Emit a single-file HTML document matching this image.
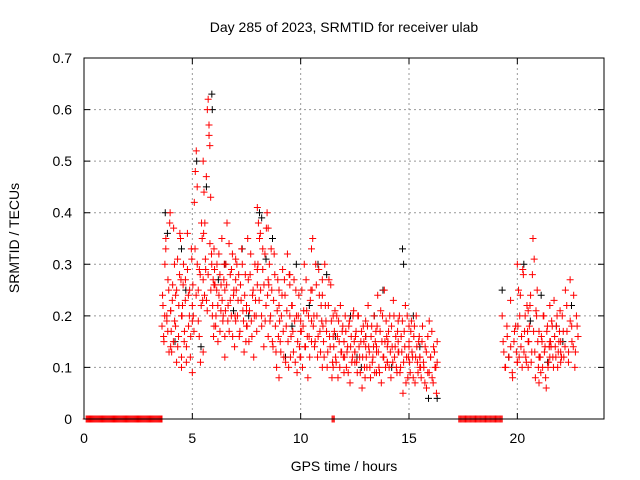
<!DOCTYPE html>
<html><head><meta charset="utf-8"><style>
html,body{margin:0;padding:0;background:#fff;}
svg{display:block;font-family:"Liberation Sans",sans-serif;}
</style></head><body>
<svg id="chart" width="640" height="480">
<text x="344" y="32" font-size="14" text-anchor="middle">Day 285 of 2023, SRMTID for receiver ulab</text>
<text transform="translate(19,238) rotate(-90)" font-size="14" text-anchor="middle">SRMTID / TECUs</text>
<text x="344" y="471" font-size="14" text-anchor="middle">GPS time / hours</text>
<g id="grid"></g>
<g id="axes"></g>
<g id="black"></g>
<g id="red"></g>
<rect x="84" y="58" width="520" height="361" fill="none" stroke="#000" stroke-width="1"/>
</svg>
<script>
const xTicks=[0,5,10,15,20];
const yTicks=[0,0.1,0.2,0.3,0.4,0.5,0.6,0.7];
const yTickLabels=["0","0.1","0.2","0.3","0.4","0.5","0.6","0.7"];
const redBinStart=[0.1,11.45,17.3,3.6,4.0,4.5,5.0,5.5,6.0,6.5,7.0,7.5,8.0,8.5,9.0,9.5,10,10.5,11,11.5,12,12.5,13,13.5,14,14.5,15,15.5,19.3,20,20.5,21,21.5,22];
const redBinEnd=[3.6,11.55,19.3,4.0,4.5,5.0,5.5,6.0,6.5,7.0,7.5,8.0,8.5,9.0,9.5,10,10.5,11,11.5,12,12.5,13,13.5,14,14.5,15,15.5,16.3,20,20.5,21,21.5,22,22.8];
const redBinValues=[
[0,0,0,0,0,0,0,0,0,0,0,0,0,0,0,0,0,0,0,0,0,0,0,0,0,0,0,0,0,0,0,0,0,0,0,0,0,0,0,0,0,0,0,0,0,0,0,0,0,0,0,0,0,0,0,0,0,0,0,0,0,0,0,0,0,0,0,0,0,0,0,0,0,0,0,0,0,0,0,0],
[0,0,0],
[0,0,0,0,0,0,0,0,0,0,0,0,0,0,0,0,0,0,0,0,0,0,0,0,0,0,0,0,0,0,0,0,0,0,0,0,0,0,0,0],
[0.18,0.22,0.15,0.3,0.35,0.2,0.17,0.25,0.38,0.14],
[0.21,0.13,0.26,0.37,0.19,0.24,0.11,0.31,0.16,0.28,0.35,0.2],
[0.1,0.22,0.3,0.17,0.27,0.14,0.36,0.24,0.2,0.12,0.33,0.19],
[0.09,0.2,0.42,0.48,0.52,0.3,0.25,0.16,0.28,0.22,0.35,0.13],
[0.5,0.44,0.38,0.29,0.23,0.6,0.62,0.57,0.53,0.43,0.32,0.2,0.27,0.18],
[0.33,0.26,0.2,0.3,0.15,0.24,0.28,0.21,0.35,0.19,0.27,0.12],
[0.25,0.3,0.38,0.22,0.17,0.28,0.2,0.32,0.24,0.14,0.27],
[0.19,0.3,0.23,0.16,0.26,0.33,0.21,0.13,0.28,0.18],
[0.22,0.35,0.15,0.28,0.19,0.24,0.12,0.3,0.2,0.26],
[0.41,0.38,0.35,0.25,0.18,0.29,0.14,0.32,0.22,0.4,0.27],
[0.37,0.3,0.2,0.25,0.14,0.32,0.18,0.1,0.27,0.22],
[0.08,0.15,0.2,0.29,0.12,0.24,0.18,0.32,0.1,0.26],
[0.28,0.16,0.22,0.13,0.19,0.25,0.09,0.2,0.14,0.17],
[0.12,0.25,0.18,0.3,0.14,0.21,0.08,0.16,0.23,0.19],
[0.33,0.35,0.2,0.15,0.26,0.12,0.29,0.17,0.22,0.1],
[0.24,0.15,0.3,0.19,0.1,0.22,0.16,0.26,0.08,0.2],
[0.1,0.17,0.12,0.2,0.08,0.15,0.22,0.13,0.18,0.09],
[0.15,0.2,0.1,0.14,0.18,0.07,0.16,0.12,0.21,0.11],
[0.13,0.17,0.09,0.2,0.12,0.15,0.06,0.18,0.1,0.14],
[0.16,0.1,0.22,0.13,0.08,0.18,0.12,0.2,0.15,0.09],
[0.14,0.24,0.1,0.17,0.07,0.2,0.12,0.15,0.19,0.11],
[0.11,0.17,0.2,0.08,0.14,0.23,0.12,0.16,0.09,0.19],
[0.15,0.2,0.1,0.13,0.05,0.17,0.22,0.12,0.08,0.18],
[0.14,0.09,0.19,0.12,0.16,0.07,0.2,0.11,0.15,0.1],
[0.12,0.08,0.18,0.1,0.14,0.06,0.16,0.09,0.12,0.17,0.07,0.13,0.1,0.15],
[0.2,0.13,0.1,0.16,0.12,0.23,0.09,0.15,0.18,0.11],
[0.3,0.25,0.2,0.14,0.1,0.28,0.17,0.12,0.22,0.15],
[0.1,0.18,0.24,0.13,0.35,0.31,0.08,0.2,0.15,0.12],
[0.07,0.12,0.16,0.1,0.2,0.14,0.06,0.18,0.11,0.15],
[0.22,0.14,0.18,0.1,0.16,0.12,0.2,0.13,0.17,0.11],
[0.15,0.2,0.12,0.25,0.17,0.13,0.27,0.18,0.14,0.1,0.2,0.16]
];
// second pass of red readings, offset half a step within the same bins
const redBinValues2=[
[],[],[],
[0.24,0.16,0.2,0.33,0.19,0.27,0.13,0.4,0.21],
[0.17,0.23,0.15,0.3,0.18,0.25,0.14,0.22,0.36,0.27,0.12],
[0.2,0.26,0.15,0.23,0.11,0.29,0.18,0.25,0.16,0.31,0.22],
[0.26,0.17,0.33,0.24,0.45,0.19,0.29,0.11,0.38,0.23,0.27],
[0.36,0.24,0.31,0.47,0.21,0.28,0.55,0.34,0.25,0.3,0.22,0.16,0.26],
[0.29,0.18,0.25,0.22,0.32,0.17,0.26,0.23,0.2,0.3,0.16],
[0.21,0.26,0.19,0.34,0.23,0.29,0.16,0.25,0.2,0.31],
[0.25,0.2,0.28,0.17,0.23,0.3,0.19,0.24,0.15,0.21],
[0.18,0.27,0.21,0.32,0.16,0.25,0.2,0.23,0.17,0.29],
[0.3,0.23,0.36,0.2,0.33,0.26,0.19,0.37,0.24,0.16],
[0.26,0.19,0.33,0.15,0.23,0.28,0.13,0.21,0.16,0.25],
[0.19,0.13,0.24,0.17,0.27,0.11,0.21,0.15,0.28,0.2],
[0.12,0.22,0.17,0.27,0.11,0.2,0.15,0.24,0.12,0.19],
[0.17,0.1,0.21,0.14,0.27,0.16,0.2,0.12,0.25,0.15],
[0.25,0.18,0.14,0.3,0.2,0.16,0.24,0.13,0.19,0.27],
[0.18,0.12,0.22,0.17,0.13,0.27,0.14,0.19,0.11,0.16],
[0.14,0.21,0.11,0.16,0.19,0.1,0.13,0.17,0.12,0.15],
[0.12,0.17,0.13,0.09,0.19,0.14,0.11,0.2,0.15,0.13],
[0.16,0.11,0.2,0.14,0.09,0.17,0.12,0.15,0.08,0.19],
[0.12,0.18,0.14,0.1,0.16,0.11,0.14,0.09,0.17,0.13],
[0.18,0.13,0.09,0.21,0.15,0.12,0.25,0.1,0.16,0.14],
[0.15,0.1,0.13,0.18,0.11,0.2,0.14,0.1,0.17,0.13],
[0.13,0.09,0.16,0.19,0.11,0.14,0.07,0.2,0.12,0.15],
[0.11,0.17,0.13,0.08,0.18,0.12,0.14,0.09,0.16,0.12],
[0.1,0.15,0.11,0.07,0.13,0.09,0.19,0.12,0.08,0.14,0.1,0.05,0.11],
[0.15,0.1,0.18,0.12,0.14,0.08,0.17,0.13,0.11],
[0.18,0.12,0.24,0.16,0.29,0.13,0.2,0.11,0.17,0.21],
[0.15,0.22,0.11,0.28,0.17,0.13,0.21,0.25,0.1,0.17],
[0.12,0.09,0.15,0.2,0.13,0.08,0.17,0.1,0.14,0.12],
[0.15,0.19,0.12,0.23,0.14,0.18,0.1,0.15,0.21,0.13],
[0.12,0.17,0.14,0.22,0.11,0.19,0.15,0.24,0.13,0.18,0.16]
];
const blackTimes=[3.75,3.85,4.5,5.2,5.65,5.9,5.92,6.5,7.3,8.1,8.2,8.7,9.8,10.8,11.2,12.3,13.0,13.8,14.7,14.75,15.2,15.9,16.3,19.3,20.3,21.1,21.8,22.5,4.2,6.9,9.3,12.8,4.7,5.4,6.2,7.6,8.4,9.6,10.4,11.6,12.6,13.4,14.2,15.5,19.6,20.6,21.4,22.1];
const blackValues=[0.4,0.36,0.33,0.5,0.45,0.63,0.6,0.3,0.33,0.4,0.39,0.35,0.3,0.3,0.28,0.2,0.16,0.25,0.33,0.3,0.2,0.04,0.04,0.25,0.3,0.24,0.18,0.22,0.15,0.21,0.12,0.1,0.25,0.14,0.27,0.2,0.31,0.18,0.22,0.16,0.12,0.2,0.1,0.14,0.12,0.19,0.11,0.15];

const L=84,R=604,T=58,B=419,XMAX=24,YMAX=0.7;
const xs=v=>L+(R-L)*v/XMAX, ys=v=>B-(B-T)*v/YMAX;
const NS='http://www.w3.org/2000/svg';
function mk(tag,attrs,parent){const e=document.createElementNS(NS,tag);for(const k in attrs)e.setAttribute(k,attrs[k]);parent.appendChild(e);return e;}
const grid=document.getElementById('grid'),axes=document.getElementById('axes');
xTicks.forEach(t=>{const x=xs(t);
 if(t>0){const g=mk('line',{x1:x,x2:x,y1:T,y2:B,stroke:'#999','stroke-dasharray':'2,3'},grid);}
 const tk=mk('path',{d:`M${x},${B}v-6M${x},${T}v6`,stroke:'#000'},axes);
 const lb=mk('text',{x:x,y:B+24,'font-size':14,'text-anchor':'middle'},axes);lb.textContent=t;});
yTicks.forEach((t,i)=>{const y=ys(t);
 if(t>0&&t<0.7){const g=mk('line',{x1:L,x2:R,y1:y,y2:y,stroke:'#999','stroke-dasharray':'2,3'},grid);}
 const tk=mk('path',{d:`M${L},${y}h6M${R},${y}h-6`,stroke:'#000'},axes);
 const lb=mk('text',{x:L-12,y:y+5,'font-size':14,'text-anchor':'end'},axes);lb.textContent=yTickLabels[i];});
function plus(t,v,col,parent){const x=xs(t),y=ys(v);
 const p=mk('path',{d:`M${x-3.5},${y}h7M${x},${y-3.5}v7`,stroke:col,'stroke-width':1},parent);
 
 }
const bg=document.getElementById('black');
blackTimes.forEach((t,i)=>plus(t,blackValues[i],'#000',bg));
const rg=document.getElementById('red');
function drawBins(arr,off){arr.forEach((vals,b)=>{const s=redBinStart[b],e=redBinEnd[b],n=vals.length;if(!n)return;
 const step=(e-s)/(n>1?n-1:1);
 vals.forEach((v,i)=>plus(Math.min(e,s+step*(i+off)),v,'#f00',rg));});}
drawBins(redBinValues,0);
drawBins(redBinValues2,0.5);
</script>
</body></html>
